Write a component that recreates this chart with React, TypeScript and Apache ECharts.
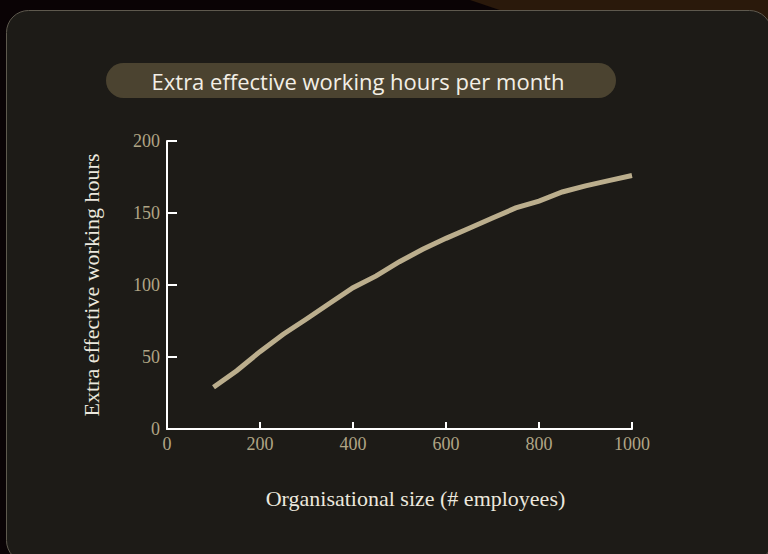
import React, { useEffect, useRef } from "react";
import * as echarts from "echarts";

const titleText = "Extra effective working hours per month";
const xAxisName = "Organisational size (# employees)";
const yAxisName = "Extra effective working hours";

const employees = [100, 150, 200, 250, 300, 350, 400, 450, 500, 550, 600, 650, 700, 750, 800, 850, 900, 950, 1000];
const extraHours = [29.0, 40.5, 53.7, 65.8, 76.4, 87.3, 98.1, 106.3, 116.2, 124.8, 132.4, 139.4, 146.5, 153.5, 158.3, 164.6, 168.8, 172.5, 176.0];

const xTicks = [0, 200, 400, 600, 800, 1000];
const yTicks = [0, 50, 100, 150, 200];

export default function App() {
  const ref = useRef<HTMLDivElement>(null);
  useEffect(() => {
    if (!ref.current) return;
    const chart = echarts.init(ref.current, null, { renderer: "svg" });
    const data = employees.map((x, i) => [x, extraHours[i]]);
    const tickFont = '"Liberation Serif", serif';
    chart.setOption({
      animation: false,
      backgroundColor: "#0a0305",
      graphic: [
        {
          type: "polygon",
          z: -10,
          shape: { points: [[470, 0], [768, 0], [768, 100]] },
          style: { fill: "#2a190b" },
          silent: true,
        },
        {
          type: "rect",
          z: -9,
          shape: { x: 6.5, y: 10.5, width: 765, height: 552, r: 22 },
          style: { fill: "#1d1b17", stroke: "#5e594e", lineWidth: 1 },
          silent: true,
        },
        {
          type: "rect",
          z: -8,
          shape: { x: 106, y: 63, width: 510, height: 35, r: 17.5 },
          style: { fill: "#4b4330" },
          silent: true,
        },
        {
          type: "text",
          z: 10,
          x: 358,
          y: 81,
          style: {
            text: titleText,
            fill: "#f3efe6",
            font: '22px "Open Sans", sans-serif',
            align: "center",
            verticalAlign: "middle",
          },
          silent: true,
        },
      ],
      grid: { left: 167, right: 136, top: 141, bottom: 125, containLabel: false },
      xAxis: {
        type: "value",
        min: xTicks[0],
        max: xTicks[xTicks.length - 1],
        interval: xTicks[1] - xTicks[0],
        name: xAxisName,
        nameLocation: "middle",
        nameGap: 58,
        nameTextStyle: {
          color: "#ece8de",
          fontSize: 22,
          fontFamily: tickFont,
          padding: [0, 0, 0, 32],
        },
        axisLine: { show: true, lineStyle: { color: "#ffffff", width: 2 } },
        axisTick: { show: true, inside: true, length: 7, lineStyle: { color: "#ffffff", width: 2 } },
        axisLabel: {
          color: "#b0a585",
          fontSize: 18,
          fontFamily: tickFont,
          margin: 6,
          formatter: (v: number) => String(v),
        },
        splitLine: { show: false },
      },
      yAxis: {
        type: "value",
        min: yTicks[0],
        max: yTicks[yTicks.length - 1],
        interval: yTicks[1] - yTicks[0],
        name: yAxisName,
        nameLocation: "middle",
        nameGap: 65,
        nameTextStyle: { color: "#ece8de", fontSize: 22, fontFamily: tickFont },
        axisLine: { show: true, lineStyle: { color: "#ffffff", width: 2 } },
        axisTick: { show: true, inside: true, length: 10, lineStyle: { color: "#ffffff", width: 2 } },
        axisLabel: {
          color: "#b0a585",
          fontSize: 18,
          fontFamily: tickFont,
          margin: 7,
          formatter: (v: number) => String(v),
        },
        splitLine: { show: false },
      },
      series: [
        {
          type: "line",
          data,
          showSymbol: false,
          symbol: "none",
          lineStyle: { color: "#bbae8d", width: 5, cap: "butt", join: "miter" },
        },
      ],
    });
    return () => chart.dispose();
  }, []);
  return (
    <div
      ref={ref}
      style={{ position: "absolute", left: 0, top: 0, width: 768, height: 554 }}
    />
  );
}
